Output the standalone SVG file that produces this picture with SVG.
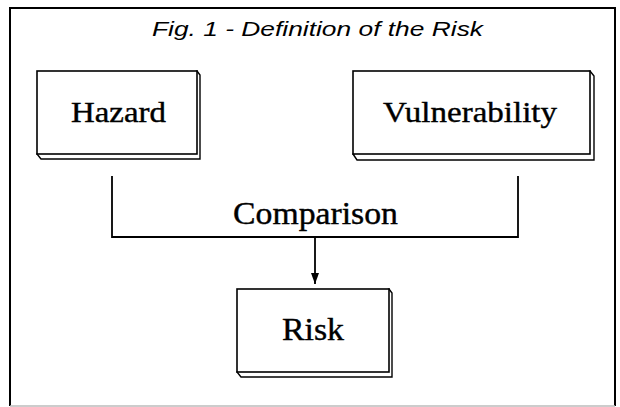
<svg xmlns="http://www.w3.org/2000/svg" width="620" height="407" viewBox="0 0 620 407">
  <style>
    .front { fill: #ffffff; stroke: #000; stroke-width: 1.6; }
    .slab { fill: #ffffff; stroke: #000; stroke-width: 1.4; stroke-linejoin: miter; }
    .lbl { font-family: "Liberation Serif", "Times New Roman", serif; fill: #000; stroke: #000; stroke-width: 0.4; }
    .title { font-family: "Liberation Sans", Arial, sans-serif; font-style: italic; font-size: 21px; fill: #000; }
    .conn { fill: none; stroke: #000; stroke-width: 1.8; }
  </style>
  <defs>
    <marker id="arrow" markerWidth="12" markerHeight="8" refX="11" refY="4" orient="auto" markerUnits="userSpaceOnUse" viewBox="0 0 12 8">
      <path d="M0,0 L11,4 L0,8 Z" fill="#000"/>
    </marker>
  </defs>
  <rect x="0" y="0" width="620" height="407" fill="#ffffff"/>
  <g id="frame">
    <path d="M10,406 V8 H615 V406" fill="none" stroke="#000" stroke-width="2"/>
    <path d="M10,406 H615" fill="none" stroke="#bbb" stroke-width="1.5"/>
  </g>
  <g id="title">
    <text class="title" x="152" y="36" textLength="331" lengthAdjust="spacingAndGlyphs">Fig. 1 - Definition of the Risk</text>
  </g>
  <g id="hazard">
    <path class="slab" d="M197,71 L200,75 L200,159 L41,159 L37,154 Z"/>
    <rect class="front" x="37" y="71" width="160" height="83"/>
    <text class="lbl" x="71" y="122" font-size="29" textLength="95" lengthAdjust="spacingAndGlyphs">Hazard</text>
  </g>
  <g id="vulnerability">
    <path class="slab" d="M590,71 L594,76 L594,160 L357,160 L353,154 Z"/>
    <rect class="front" x="353" y="71" width="237" height="83"/>
    <text class="lbl" x="383" y="122" font-size="30" textLength="174" lengthAdjust="spacingAndGlyphs">Vulnerability</text>
  </g>
  <g id="risk">
    <path class="slab" d="M389,289 L392,293 L392,377 L241,377 L237,372 Z"/>
    <rect class="front" x="237" y="289" width="152" height="83"/>
    <text class="lbl" x="282" y="340" font-size="32" textLength="62" lengthAdjust="spacingAndGlyphs">Risk</text>
  </g>
  <g id="connectors">
    <path class="conn" d="M112,176 V237 H518 V176"/>
    <path class="conn" d="M315,237 V284" stroke-width="1.5" marker-end="url(#arrow)"/>
    <text class="lbl" x="233" y="224" font-size="32" textLength="165" lengthAdjust="spacingAndGlyphs">Comparison</text>
  </g>
</svg>
